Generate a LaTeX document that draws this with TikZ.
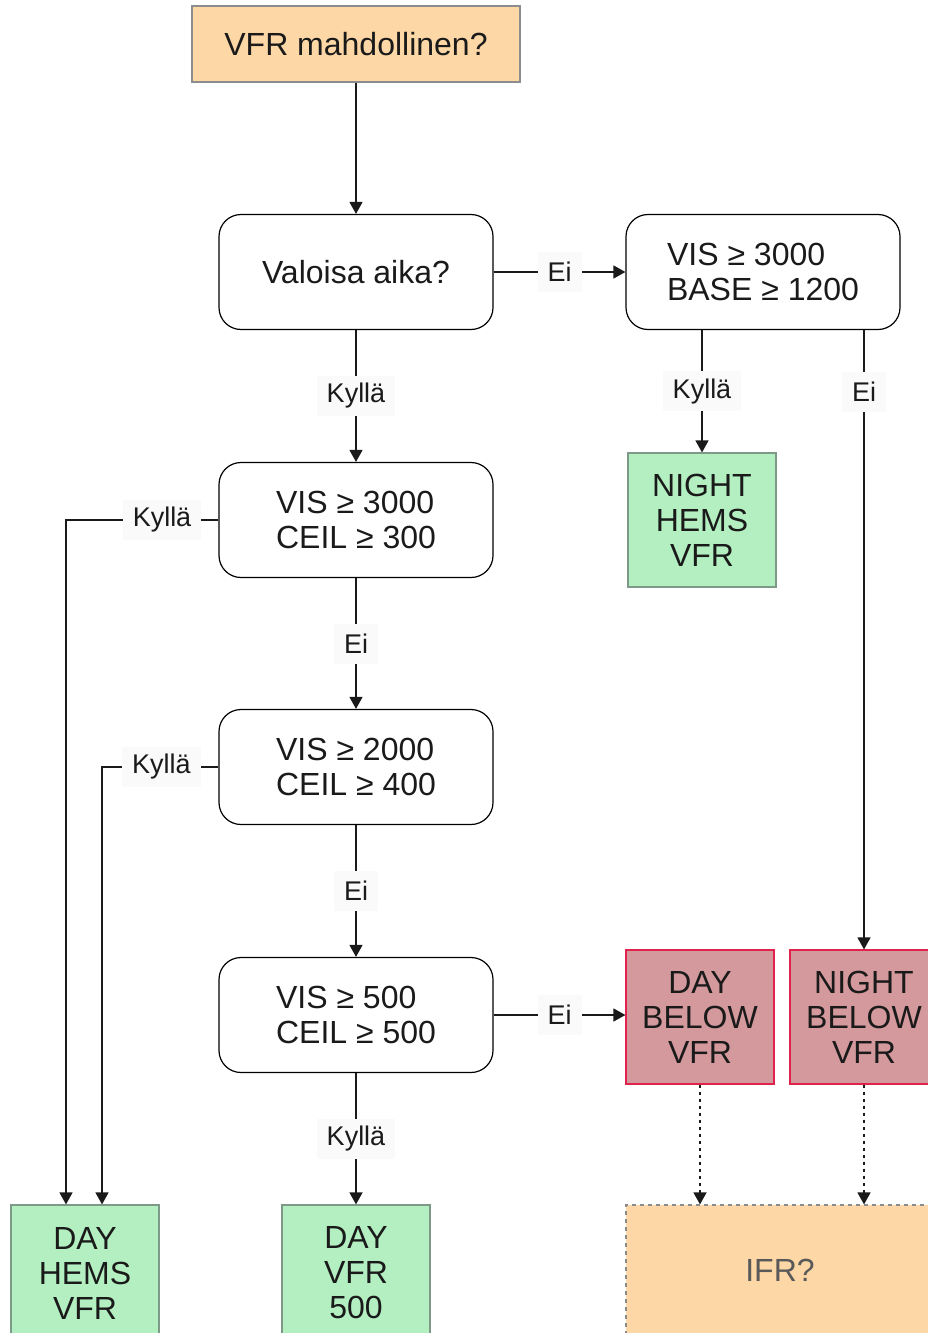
\documentclass[tikz,border=0pt]{standalone}
\usepackage{fontspec}
\setmainfont{Liberation Sans}
\usetikzlibrary{arrows.meta,positioning}
\definecolor{txt}{HTML}{1A1A1A}
\definecolor{qfill}{HTML}{FDD7A5}
\definecolor{qline}{HTML}{8C8C8C}
\definecolor{okfill}{HTML}{B3EFC0}
\definecolor{okline}{HTML}{7D9A88}
\definecolor{nofill}{HTML}{D4999C}
\definecolor{noline}{HTML}{E0234D}
\definecolor{lblbg}{HTML}{FAFAFA}
\tikzset{
  base/.style={inner sep=0pt, text=txt, font=\fontsize{32}{35}\selectfont, line width=1.2pt},
  question/.style={base, draw=qline, fill=qfill, minimum width=328, minimum height=76},
  decision/.style={base, draw=black, rounded corners=22, minimum width=274, minimum height=115, align=left},
  result/.style={base, draw=okline, fill=okfill, minimum width=148, minimum height=134, align=center},
  below/.style={base, draw=noline, fill=nofill, minimum width=148, minimum height=134, align=center},
  ifr/.style={base, draw=qline, fill=qfill, dashed, dash pattern=on 4pt off 4pt, text=black!65, minimum width=308, minimum height=130},
  arr/.style={line width=1.4pt, draw=txt, -{Triangle[length=12pt,width=13pt]}},
  dotarr/.style={arr, dash pattern=on 3.5pt off 3.5pt},
  lbl/.style={fill=lblbg, text=txt, inner xsep=10pt, inner ysep=0pt, minimum height=40, font=\fontsize{27}{29}\selectfont},
}
\begin{document}
\begin{tikzpicture}[x=1pt,y=-1pt]
\useasboundingbox (0,0) rectangle (928,1333);
\clip (0,0) rectangle (928,1333);

% question at the top
\node[question] (vfr) at (356,44) {VFR mahdollinen?};

% decisions
\node[decision, align=center] (day) at (356,272) {Valoisa aika?};
\node[decision] (night) at (763,272) {VIS ≥ 3000\\BASE ≥ 1200};
\node[decision] (c1) at (356,520) {VIS ≥ 3000\\CEIL ≥ 300};
\node[decision] (c2) at (356,767) {VIS ≥ 2000\\CEIL ≥ 400};
\node[decision] (c3) at (356,1015) {VIS ≥ 500\\CEIL ≥ 500};

% outcomes
\node[result] (nhv) at (702,520) {NIGHT\\HEMS\\VFR};
\node[below] (dbv) at (700,1017) {DAY\\BELOW\\VFR};
\node[below] (nbv) at (864,1017) {NIGHT\\BELOW\\VFR};
\node[result, minimum height=136] (dhv) at (85,1273) {DAY\\HEMS\\VFR};
\node[result, minimum height=136] (dv5) at (356,1273) {DAY\\VFR\\500};
\node[ifr] (ifrq) at (780,1270) {IFR?};

% connectors
\draw[arr] (vfr) -- (day);
\draw[arr] (day) -- node[lbl]{Ei} (night);
\draw[arr] (day) -- node[lbl]{Kyllä} (c1);
\draw[arr] (night.south -| nhv) -- node[lbl]{Kyllä} (nhv);
\draw[arr] (night.south -| nbv) -- node[lbl, pos=0.1]{Ei} (nbv);

\coordinate (k1) at (66,520);
\coordinate (k2) at (102,767);
\draw[arr] (c1.west) -- node[lbl, pos=0.37]{Kyllä} (k1) -- (k1 |- dhv.north);
\draw[arr] (c1) -- node[lbl]{Ei} (c2);
\draw[arr] (c2.west) -- node[lbl, pos=0.49]{Kyllä} (k2) -- (k2 |- dhv.north);
\draw[arr] (c2) -- node[lbl]{Ei} (c3);
\draw[arr] (c3) -- node[lbl]{Ei} (dbv.west |- c3);
\draw[arr] (c3) -- node[lbl]{Kyllä} (dv5);

\draw[dotarr] (dbv.south) -- (dbv.south |- ifrq.north);
\draw[dotarr] (nbv.south) -- (nbv.south |- ifrq.north);
\end{tikzpicture}
\end{document}
